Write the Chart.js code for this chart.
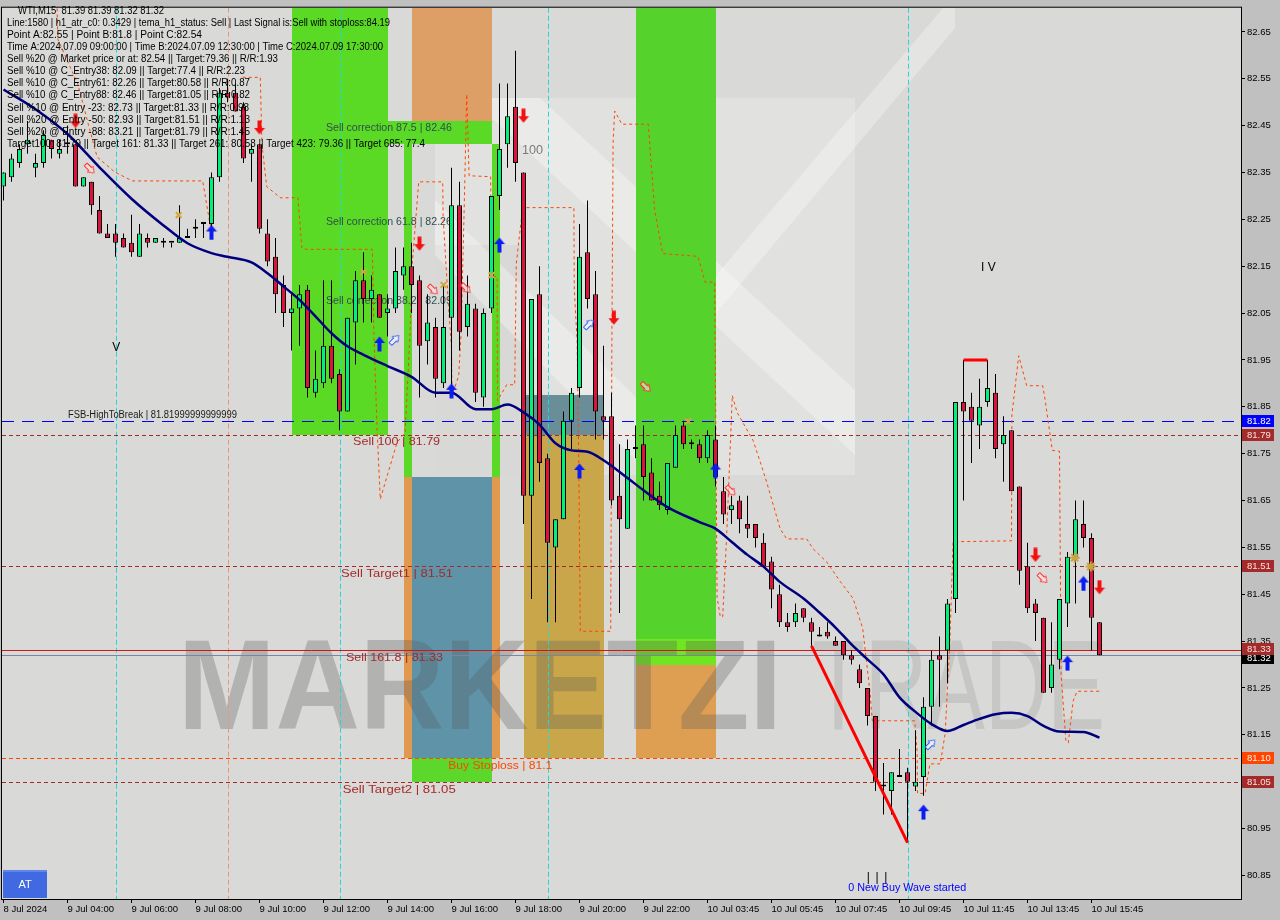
<!DOCTYPE html>
<html>
<head>
<meta charset="utf-8">
<title>WTI,M15</title>
<script src="https://cdn.jsdelivr.net/npm/chart.js@4.4.1/dist/chart.umd.min.js"></script>
<style>
html,body{margin:0;padding:0;background:#c0c0c0;overflow:hidden;}
canvas{display:block;}
</style>
</head>
<body>
<canvas id="c" width="1280" height="920" style="width:1280px;height:920px"></canvas>
<script>
// ---------------- DATA ----------------
const timeTickIdx = [0,8,16,24,32,40,48,56,64,72,80,88,96,104,112,120,128,136];
const timeLabels = ['8 Jul 2024','9 Jul 04:00','9 Jul 06:00','9 Jul 08:00','9 Jul 10:00','9 Jul 12:00','9 Jul 14:00','9 Jul 16:00','9 Jul 18:00','9 Jul 20:00','9 Jul 22:00','10 Jul 03:45','10 Jul 05:45','10 Jul 07:45','10 Jul 09:45','10 Jul 11:45','10 Jul 13:45','10 Jul 15:45'];
const priceTicks = [80.85,80.95,81.05,81.15,81.25,81.35,81.45,81.55,81.65,81.75,81.85,81.95,82.05,82.15,82.25,82.35,82.45,82.55,82.65];

const openP = [82.32,82.34,82.37,82.41,82.36,82.37,82.42,82.39,82.41,82.41,
 82.32,82.33,82.27,82.22,82.22,82.21,82.20,82.17,82.21,82.20,
 82.20,82.20,82.20,82.21,82.23,82.24,82.24,82.34,82.52,82.52,
 82.49,82.39,82.41,82.22,82.17,82.11,82.05,82.06,82.10,81.88,
 81.90,81.98,81.92,81.84,82.03,82.12,82.08,82.09,82.05,82.06,
 82.13,82.15,82.12,81.99,82.02,81.90,82.04,82.28,82.02,82.06,
 81.87,82.06,82.30,82.41,82.49,82.35,81.66,82.09,81.74,81.55,
 81.61,81.82,81.89,82.18,82.09,81.83,81.83,81.66,81.59,81.76,
 81.77,81.71,81.66,81.63,81.72,81.81,81.77,81.77,81.74,81.78,
 81.67,81.63,81.65,81.60,81.60,81.56,81.52,81.45,81.39,81.39,
 81.42,81.39,81.36,81.37,81.35,81.35,81.32,81.29,81.25,81.19,
 81.04,81.03,81.06,81.07,81.04,81.06,81.21,81.32,81.33,81.44,
 81.86,81.85,81.81,81.86,81.88,81.77,81.80,81.68,81.51,81.43,
 81.40,81.25,81.31,81.43,81.53,81.60,81.57,81.39];
const highP = [82.35,82.39,82.41,82.46,82.39,82.44,82.42,82.42,82.45,82.41,
 82.34,82.33,82.30,82.24,82.24,82.22,82.26,82.24,82.22,82.21,
 82.21,82.20,82.28,82.23,82.25,82.24,82.35,82.53,82.55,82.54,
 82.50,82.41,82.41,82.25,82.21,82.13,82.09,82.11,82.11,81.97,
 82.12,82.12,81.93,82.04,82.14,82.18,82.13,82.09,82.09,82.19,
 82.19,82.20,82.13,82.09,82.04,82.11,82.36,82.33,82.13,82.07,
 82.06,82.30,82.54,82.54,82.61,82.35,82.08,82.15,81.75,81.61,
 81.84,81.89,82.24,82.29,82.14,81.98,81.88,81.77,81.78,81.81,
 81.81,81.74,81.69,81.73,81.81,81.82,81.78,81.78,81.80,81.81,
 81.70,81.66,81.66,81.66,81.60,81.58,81.53,81.47,81.41,81.43,
 81.42,81.40,81.38,81.39,81.36,81.35,81.33,81.30,81.25,81.19,
 81.09,81.07,81.12,81.08,81.16,81.23,81.33,81.36,81.44,81.86,
 81.95,81.88,81.91,81.95,81.92,81.83,81.80,81.68,81.56,81.44,
 81.40,81.39,81.44,81.54,81.65,81.65,81.58,81.39];
const lowP = [82.29,82.33,82.36,82.39,82.34,82.36,82.38,82.38,82.39,82.32,
 82.32,82.26,82.22,82.21,82.17,82.19,82.17,82.17,82.19,82.20,
 82.19,82.19,82.20,82.21,82.21,82.21,82.23,82.33,82.50,82.48,
 82.37,82.33,82.22,82.15,82.05,82.02,81.97,81.98,81.87,81.87,
 81.89,81.90,81.80,81.84,81.94,82.03,82.03,82.04,82.00,82.05,
 82.10,82.05,81.87,81.94,81.87,81.89,81.89,81.97,82.00,81.86,
 81.85,82.05,82.27,82.36,82.33,81.60,81.44,81.69,81.39,81.39,
 81.61,81.76,81.87,82.06,81.78,81.78,81.64,81.41,81.59,81.74,
 81.65,81.65,81.63,81.62,81.72,81.76,81.76,81.73,81.73,81.68,
 81.60,81.60,81.58,81.57,81.55,81.51,81.42,81.38,81.37,81.38,
 81.39,81.34,81.36,81.355,81.34,81.31,81.30,81.25,81.17,81.03,
 80.98,80.98,81.06,80.92,81.03,81.02,81.17,81.21,81.26,81.41,
 81.65,81.73,81.76,81.85,81.74,81.69,81.67,81.47,81.41,81.35,
 81.24,81.24,81.29,81.38,81.43,81.55,81.33,81.32];
const closeP = [82.35,82.38,82.40,82.42,82.37,82.43,82.40,82.40,82.41,82.32,
 82.34,82.28,82.22,82.21,82.20,82.19,82.18,82.22,82.20,82.21,
 82.20,82.20,82.21,82.21,82.23,82.24,82.34,82.52,82.51,82.48,
 82.38,82.40,82.23,82.16,82.09,82.05,82.06,82.09,81.89,81.91,
 81.98,81.91,81.84,82.04,82.12,82.08,82.10,82.04,82.06,82.14,
 82.15,82.11,81.98,82.03,81.91,82.02,82.28,82.01,82.07,81.88,
 82.05,82.30,82.40,82.47,82.37,81.66,82.08,81.73,81.56,81.61,
 81.82,81.88,82.17,82.08,81.84,81.82,81.65,81.61,81.76,81.76,
 81.70,81.65,81.64,81.73,81.79,81.77,81.77,81.74,81.79,81.70,
 81.62,81.64,81.61,81.59,81.57,81.51,81.46,81.39,81.38,81.41,
 81.40,81.37,81.36,81.36,81.34,81.32,81.31,81.26,81.19,81.05,
 81.04,81.07,81.06,81.05,81.05,81.21,81.31,81.31,81.43,81.86,
 81.84,81.82,81.85,81.89,81.76,81.79,81.67,81.50,81.42,81.41,
 81.24,81.30,81.44,81.53,81.61,81.57,81.40,81.32];

// moving average (navy line), read at sample bars
const maK = [0,4,8,12,16,20,23,26,28,31,33,35,37,39,41,43,45,48,51,54,56,59,61,63,65,67,69,71,73,75,78,80,83,87,89,91,93,95,97,100,102,104,106,108,110,112,114,116,118,120,122,124,126,128,130,132,135,137];
const maP = [82.527,82.485,82.432,82.361,82.294,82.237,82.199,82.178,82.17,82.158,82.135,82.107,82.078,82.043,82.007,81.979,81.961,81.937,81.914,81.88,81.88,81.845,81.845,81.855,81.838,81.812,81.772,81.757,81.754,81.736,81.698,81.672,81.636,81.604,81.59,81.562,81.534,81.509,81.477,81.441,81.411,81.379,81.343,81.311,81.279,81.23,81.199,81.173,81.158,81.171,81.184,81.194,81.197,81.19,81.169,81.157,81.156,81.144];

// orange-red dashed trailing line (null = gap)
const trailK = [6.7,6.8,9.3,10.6,11.7,13.9,16.1,24.9,25.8,26.2,28,
 29.9,32.1,32.3,32.9,34.6,36.8,37.3,37.9,46.1,46.3,46.7,47.1,49.2,50.2,50.8,51.1,51.9,54.9,54.95,55.6,56.0,56.06,56.9,57.2,57.6,57.9,58.2,60.9,60.95,61.7,61.75,62.9,63.9,64.1,64.9,71.3,71.35,71.7,71.9,72.1,75.9,76.05,76.2,76.4,77.3,80.6,80.9,81.4,82.4,86.8,87.7,88.9,89.2,89.6,89.9,90.4,91.1,91.7,93.7,94.6,95.4,97.1,97.9,100.4,101.2,102.9,104.6,106.2,107.4,108.3,108.6,113.9,114.2,114.25,115.2,115.8,117.1,117.7,118.3,118.7,126.0,126.05,126.9,127.9,129.9,130.2,131.1,132.0,132.2,132.8,133.1,133.7,134.2,137.1];
const trailP = [82.70,82.634,82.538,82.453,82.383,82.351,82.332,82.332,82.241,82.22,null,
 82.553,82.553,82.411,82.32,82.296,82.296,82.188,82.186,82.186,82.008,81.80,81.653,81.774,81.795,82.001,82.156,82.33,82.33,82.256,82.071,81.976,81.874,81.916,82.008,82.283,82.517,82.343,82.341,82.128,82.128,81.863,81.897,81.897,82.156,82.275,82.275,82.101,81.99,81.757,81.371,81.371,82.001,82.415,82.481,82.453,82.453,82.381,82.269,82.177,82.171,82.116,82.116,81.443,81.402,81.402,81.577,81.874,81.838,81.778,81.732,81.689,81.589,81.568,81.568,81.547,81.519,81.477,81.441,81.377,81.243,81.18,81.18,81.116,81.025,81.025,81.088,81.088,81.152,81.349,81.562,81.564,81.833,81.959,81.895,81.895,81.865,81.757,81.755,81.279,81.137,81.133,81.222,81.243,81.243];

// signal arrows
const buyArrowK = [26,47,56,62,72,89,115,133,135];
const buyArrowP = [82.222,81.984,81.884,82.195,81.713,81.714,80.985,81.303,81.473];
const sellArrowK = [9,32,52,65,76.3,129,137];
const sellArrowP = [82.46,82.446,82.198,82.471,82.04,81.534,81.465];
const buyHintK = [48.9,73.2,115.9];
const buyHintP = [81.993,82.026,81.13];
const sellHintK = [10.8,53.7,57.8,80.3,90.9,129.9];
const sellHintP = [82.358,82.10,82.103,81.892,81.671,81.484];
const crossK = [21.9,45,55,61,85.6];
const crossP = [82.259,82.138,82.11,82.131,81.819];
const starK = [133.9,135.9];
const starP = [81.528,81.509];

// trend segments
const trendK = [101,113];
const trendP = [81.34,80.92];
const topK = [120,123];
const topP = [81.95,81.95];

// horizontal levels
const levelValues = [81.82,81.79,81.51,81.33,81.32,81.10,81.05];

// zones: bar-index range and price range (null = chart top)
const zoneFrom = [36,48,51,50,61,50,61,51,51,65,65,79,79,79];
const zoneTo   = [48,61,61,51,62,51,62,61,61,75,75,89,89,89];
const zoneHigh = [null,82.46,null,82.41,82.41,81.70,81.70,81.70,81.10,81.875,81.79,null,81.355,81.30];
const zoneLow  = [81.79,82.41,82.46,81.70,81.70,81.10,81.10,81.10,81.05,81.79,81.10,81.355,81.30,81.10];

// vertical markers (bar index)
const vlineCyan = [14,42,68,113];
const vlineSalmon = [28];

const infoLines = [
 'WTI,M15  81.39 81.39 81.32 81.32',
 'Line:1580 | h1_atr_c0: 0.3429 | tema_h1_status: Sell | Last Signal is:Sell with stoploss:84.19',
 'Point A:82.55 | Point B:81.8 | Point C:82.54',
 'Time A:2024.07.09 09:00:00 | Time B:2024.07.09 12:30:00 | Time C:2024.07.09 17:30:00',
 'Sell %20 @ Market price or at: 82.54 || Target:79.36 || R/R:1.93',
 'Sell %10 @ C_Entry38: 82.09 || Target:77.4 || R/R:2.23',
 'Sell %10 @ C_Entry61: 82.26 || Target:80.58 || R/R:0.87',
 'Sell %10 @ C_Entry88: 82.46 || Target:81.05 || R/R:0.82',
 'Sell %10 @ Entry -23: 82.73 || Target:81.33 || R/R:0.98',
 'Sell %20 @ Entry -50: 82.93 || Target:81.51 || R/R:1.13',
 'Sell %20 @ Entry -88: 83.21 || Target:81.79 || R/R:1.45',
 'Target100: 81.79 || Target 161: 81.33 || Target 261: 80.58 || Target 423: 79.36 || Target 685: 77.4'
];

// ---------------- STYLE / LAYOUT ----------------
const FONT = '"Liberation Sans", Arial, sans-serif';
const yMin = 80.7997, yMax = 82.7016;
const xMin = -0.1875, xMax = 154.6875;

const zoneColors = ['#5ada24','#5ada26','#dd9f66','#5ada26','#5ada26','#e0994e','#e0994e','#5e93a8','#5cd82c','#6a8e98','#c9a64a','#55d22c','#70e622','#df9f52'];
const levelStyles = [
 {c:'#0000ff', d:[12,8]}, {c:'#a52a2a', d:[4,3]}, {c:'#a52a2a', d:[4,3]},
 {c:'#d01818', d:[]}, {c:'#7888a0', d:[]}, {c:'#ff4500', d:[4,3]}, {c:'#a52a2a', d:[4,3]}
];
const axisBoxes = [
 {v:81.82, bg:'#0000ff', fg:'#ffffff', dy:0},
 {v:81.79, bg:'#a52a2a', fg:'#f3e3e3', dy:0},
 {v:81.51, bg:'#a52a2a', fg:'#f3e3e3', dy:0},
 {v:81.32, bg:'#000000', fg:'#ffffff', dy:3},
 {v:81.33, bg:'#a52a2a', fg:'#f3e3e3', dy:-1},
 {v:81.10, bg:'#ff4500', fg:'#fff0e8', dy:0},
 {v:81.05, bg:'#a52a2a', fg:'#f3e3e3', dy:0}
];
const notes = [
 {t:'Sell correction 87.5 | 82.46', k:40.3, p:82.445, c:'#2f4f4f', s:10.5, w:126},
 {t:'Sell correction 61.8 | 82.26', k:40.3, p:82.245, c:'#2f4f4f', s:10.5, w:126},
 {t:'Sell correction 38.2 | 82.09', k:40.3, p:82.075, c:'#2f4f4f', s:10.5, w:126},
 {t:'FSB-HighToBreak | 81.81999999999999', k:8.06, p:81.833, c:'#1a1a1a', s:10, w:169},
 {t:'Sell 100 | 81.79', k:43.7, p:81.774, c:'#a52a2a', s:10.5, w:87},
 {t:'Sell Target1 | 81.51', k:42.2, p:81.492, c:'#a52a2a', s:10.5, w:112},
 {t:'Sell 161.8 | 81.33', k:42.8, p:81.313, c:'#a52a2a', s:10.5, w:97},
 {t:'Buy Stoploss | 81.1', k:55.6, p:81.084, c:'#ff4500', s:10.5, w:104},
 {t:'Sell Target2 | 81.05', k:42.4, p:81.033, c:'#a52a2a', s:10.5, w:113},
 {t:'100', k:64.8, p:82.396, c:'#7a7a7a', s:13, w:21},
 {t:'V', k:13.6, p:81.976, c:'#000000', s:12},
 {t:'I V', k:122.2, p:82.146, c:'#000000', s:12},
 {t:'|', k:107.9, p:80.845, c:'#000000', s:12},
 {t:'|', k:109.0, p:80.845, c:'#000000', s:12},
 {t:'|', k:110.1, p:80.845, c:'#000000', s:12},
 {t:'0 New Buy Wave started', k:105.6, p:80.823, c:'#0000ff', s:11, w:118}
];

// ---------------- helpers ----------------
const pts = (ks, ps) => ks.map((k,i)=>({x:k, y:ps[i]}));
function makeArrow(fill, stroke, w, h){
  const c = document.createElement('canvas'); c.width = w; c.height = h;
  const g = c.getContext('2d');
  const hw = w/2, headH = Math.round(h*0.45), sw = Math.max(2, Math.round(w*0.2));
  g.beginPath();
  g.moveTo(hw,0.5); g.lineTo(w-0.5,headH); g.lineTo(hw+sw,headH); g.lineTo(hw+sw,h-0.5);
  g.lineTo(hw-sw,h-0.5); g.lineTo(hw-sw,headH); g.lineTo(0.5,headH); g.closePath();
  g.fillStyle = fill; g.fill();
  if (stroke){ g.strokeStyle = stroke; g.lineWidth = 1; g.stroke(); }
  return c;
}
function fitText(ctx, text, x, y, w){
  const m = ctx.measureText(text).width;
  ctx.save(); ctx.translate(x, y);
  if (w && m > 0) ctx.scale(w/m, 1);
  ctx.fillText(text, 0, 0);
  ctx.restore();
}

const candleWick = lowP.map((l,i)=>({x:i, y:[l, highP[i]]}));
const candleBody = openP.map((o,i)=>({x:i, y:[o, closeP[i]]}));
const bodyFill = openP.map((o,i)=> closeP[i] >= o ? '#00f07a' : '#dc143c');

const arrowBuy = makeArrow('#0a1cf2', null, 12, 16);
const arrowSell = makeArrow('#f21010', null, 12, 15);
const hintBuy = makeArrow('rgba(255,255,255,0.55)', '#2a5cff', 9, 13);
const hintSell = makeArrow('rgba(255,225,225,0.6)', '#ff2a2a', 9, 13);

// ---------------- plugin ----------------
const decor = {
  id: 'decor',
  beforeDraw(chart){
    const {ctx, chartArea:a} = chart;
    ctx.save();
    ctx.fillStyle = '#c0c0c0'; ctx.fillRect(0,0,chart.width,chart.height);
    ctx.fillStyle = '#d9d9d7'; ctx.fillRect(a.left,a.top,a.right-a.left,a.bottom-a.top);
    ctx.restore();
  },
  beforeDatasetsDraw(chart){
    const {ctx, chartArea:a, scales} = chart;
    const X = v => scales.x.getPixelForValue(v), Y = v => scales.y.getPixelForValue(v);
    ctx.save();
    ctx.beginPath(); ctx.rect(a.left,a.top,a.right-a.left,a.bottom-a.top); ctx.clip();
    // background logo (pale shapes)
    ctx.fillStyle = 'rgba(255,255,255,0.22)'; ctx.fillRect(435,98,420,377);
    ctx.fillStyle = 'rgba(0,0,0,0.04)'; ctx.fillRect(435,245,85,230);
    ctx.fillStyle = 'rgba(255,255,255,0.30)';
    ctx.beginPath(); ctx.moveTo(470,98); ctx.lineTo(540,98); ctx.lineTo(855,390); ctx.lineTo(855,455); ctx.closePath(); ctx.fill();
    ctx.beginPath(); ctx.moveTo(435,200); ctx.lineTo(435,255); ctx.lineTo(650,475); ctx.lineTo(715,475); ctx.closePath(); ctx.fill();
    ctx.beginPath(); ctx.moveTo(712,280); ctx.lineTo(712,318); ctx.lineTo(955,28); ctx.lineTo(955,-6); ctx.closePath(); ctx.fill();
    // zones
    for (let i=0;i<zoneFrom.length;i++){
      const x0 = Math.round(X(zoneFrom[i])), x1 = Math.round(X(zoneTo[i]));
      const y0 = zoneHigh[i]===null ? a.top : Math.round(Y(zoneHigh[i]));
      const y1 = Math.round(Y(zoneLow[i]));
      ctx.fillStyle = zoneColors[i];
      ctx.fillRect(x0, y0, x1-x0, y1-y0);
    }
    // watermark
    ctx.textBaseline = 'alphabetic'; ctx.textAlign = 'left';
    ctx.font = 'bold 128px ' + FONT;
    ctx.fillStyle = 'rgba(90,90,90,0.30)';
    fitText(ctx, 'MARKETZI', 178, 729, 604);
    ctx.font = '128px ' + FONT;
    ctx.fillStyle = 'rgba(130,130,130,0.22)';
    fitText(ctx, 'TRADE', 812, 729, 293);
    // vertical dashed markers
    ctx.lineWidth = 1;
    ctx.setLineDash([5,3]);
    ctx.strokeStyle = '#1ed8e0';
    vlineCyan.forEach(k=>{ const x = Math.round(X(k))+0.5; ctx.beginPath(); ctx.moveTo(x,a.top); ctx.lineTo(x,a.bottom); ctx.stroke(); });
    ctx.strokeStyle = '#e9967a';
    vlineSalmon.forEach(k=>{ const x = Math.round(X(k))+0.5; ctx.beginPath(); ctx.moveTo(x,a.top); ctx.lineTo(x,a.bottom); ctx.stroke(); });
    // horizontal levels
    levelValues.forEach((v,i)=>{
      const y = Math.round(Y(v))+0.5;
      ctx.setLineDash(levelStyles[i].d); ctx.strokeStyle = levelStyles[i].c;
      ctx.beginPath(); ctx.moveTo(a.left,y); ctx.lineTo(a.right,y); ctx.stroke();
    });
    ctx.setLineDash([]);
    // notes
    ctx.textBaseline = 'middle';
    notes.forEach(n=>{
      ctx.font = n.s + 'px ' + FONT; ctx.fillStyle = n.c;
      fitText(ctx, n.t, X(n.k), Y(n.p), n.w);
    });
    ctx.restore();
  },
  afterDraw(chart){
    const {ctx, chartArea:a, scales} = chart;
    const Y = v => scales.y.getPixelForValue(v);
    ctx.save();
    // frame
    ctx.strokeStyle = '#000'; ctx.lineWidth = 1;
    ctx.strokeRect(a.left-0.5, a.top-0.5, a.right-a.left+1, a.bottom-a.top+1);
    // info text
    ctx.fillStyle = '#000'; ctx.textBaseline = 'middle'; ctx.textAlign = 'left';
    ctx.font = '10px ' + FONT;
    const widths = [146,383,195,376,271,238,243,243,242,243,243,418];
    infoLines.forEach((t,i)=>{ fitText(ctx, t, i===0?18:7, 11 + i*12.1, widths[i]); });
    // axis value boxes
    ctx.font = '9.5px ' + FONT;
    axisBoxes.forEach(b=>{
      const yc = Math.round(Y(b.v)) + b.dy;
      ctx.fillStyle = b.bg; ctx.fillRect(a.right+1, yc-6, 32, 12);
      ctx.fillStyle = b.fg; ctx.fillText(b.v.toFixed(2), a.right+6, yc+0.5);
    });
    // AT button
    ctx.fillStyle = '#4169e1'; ctx.fillRect(3, 870, 44, 28);
    ctx.fillStyle = '#5f86ea'; ctx.fillRect(3, 870, 44, 2);
    ctx.fillStyle = '#ffffff'; ctx.font = '11px ' + FONT; ctx.textAlign = 'center';
    ctx.fillText('AT', 25, 885);
    ctx.restore();
  }
};

// ---------------- chart ----------------
new Chart(document.getElementById('c'), {
  type: 'bar',
  data: {
    datasets: [
      { type:'line', data: pts(trailK, trailP), borderColor:'#ff4500', borderWidth:1, borderDash:[3,3], pointRadius:0, spanGaps:false, tension:0, order:6 },
      { type:'bar', data: candleWick, backgroundColor:'#000000', borderWidth:0, barThickness:1, grouped:false, inflateAmount:0, order:5 },
      { type:'bar', data: candleBody, backgroundColor: bodyFill, borderColor:'#000000', borderWidth:1, borderSkipped:false, barThickness:5, minBarLength:2, grouped:false, inflateAmount:0, order:4 },
      { type:'line', data: pts(maK, maP), borderColor:'#00007f', borderWidth:2.5, pointRadius:0, cubicInterpolationMode:'monotone', order:3 },
      { type:'line', data: pts(trendK, trendP), borderColor:'#ff0000', borderWidth:3, pointRadius:0, order:2 },
      { type:'line', data: pts(topK, topP), borderColor:'#ff0000', borderWidth:3, pointRadius:0, order:2 },
      { type:'line', data: pts(buyArrowK, buyArrowP), showLine:false, pointStyle: arrowBuy, pointRadius:8, pointRotation:0, order:1 },
      { type:'line', data: pts(sellArrowK, sellArrowP), showLine:false, pointStyle: arrowSell, pointRadius:8, pointRotation:180, order:1 },
      { type:'line', data: pts(buyHintK, buyHintP), showLine:false, pointStyle: hintBuy, pointRadius:7, pointRotation:45, order:1 },
      { type:'line', data: pts(sellHintK, sellHintP), showLine:false, pointStyle: hintSell, pointRadius:7, pointRotation:135, order:1 },
      { type:'line', data: pts(crossK, crossP), showLine:false, pointStyle:'crossRot', pointRadius:4, pointBorderWidth:2, pointBorderColor:'#d2a83c', order:1 },
      { type:'line', data: pts(starK, starP), showLine:false, pointStyle:'star', pointRadius:5, pointBorderWidth:2, pointBorderColor:'#c9a443', pointBackgroundColor:'#c9a443', order:1 }
    ]
  },
  options: {
    responsive:false, maintainAspectRatio:false, devicePixelRatio:1, animation:false, events:[],
    layout:{ autoPadding:false, padding:{ left:2, top:3, right:0, bottom:0 } },
    plugins:{ legend:{display:false}, tooltip:{enabled:false}, title:{display:false} },
    scales:{
      x:{
        type:'linear', position:'bottom', min:xMin, max:xMax, offset:false,
        grid:{ display:true, drawOnChartArea:false, drawTicks:true, tickLength:4, color:'#000', offset:false },
        border:{ display:true, color:'#000' },
        afterBuildTicks: s => { s.ticks = timeTickIdx.map(v=>({value:v})); },
        afterFit: s => { s.height = 21; },
        ticks:{ autoSkip:false, maxRotation:0, minRotation:0, align:'start', padding:1, color:'#000',
          font:{ family:FONT, size:9.5 },
          callback:(v,i)=> timeLabels[i] }
      },
      y:{
        type:'linear', position:'right', min:yMin, max:yMax,
        grid:{ display:true, drawOnChartArea:false, drawTicks:true, tickLength:4, color:'#000' },
        border:{ display:true, color:'#000' },
        afterBuildTicks: s => { s.ticks = priceTicks.map(v=>({value:v})); },
        afterFit: s => { s.width = 39; },
        ticks:{ padding:2, color:'#000', font:{ family:FONT, size:9.5 }, callback:v=> Number(v).toFixed(2) }
      }
    }
  },
  plugins:[decor]
});
</script>
</body>
</html>
